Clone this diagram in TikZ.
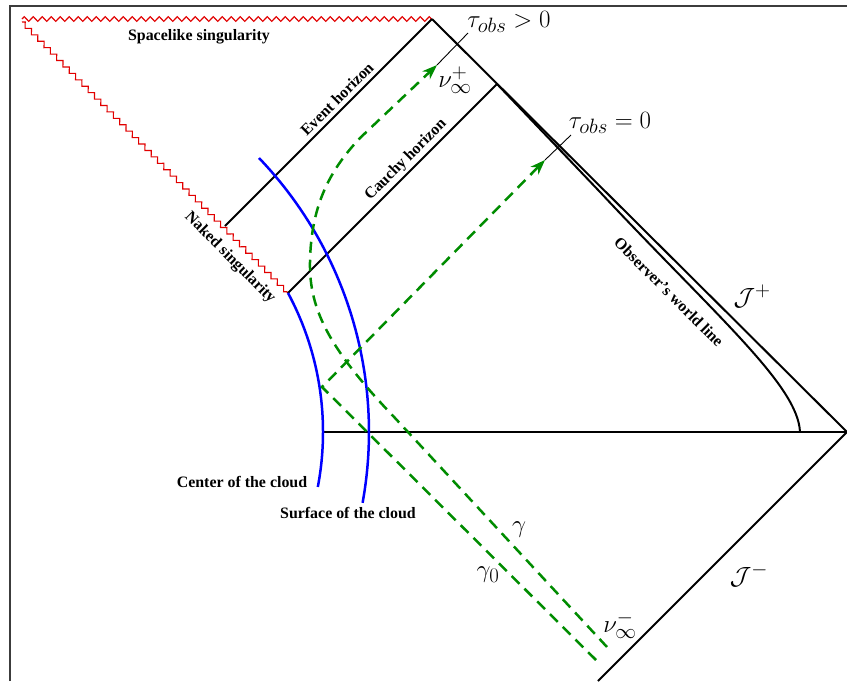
\documentclass[tikz,border=0pt]{standalone}
\usepackage{fontspec}
\setmainfont{Liberation Serif}
\usetikzlibrary{decorations.pathmorphing,arrows.meta}
\definecolor{rayg}{RGB}{0,140,0}
\definecolor{singred}{RGB}{225,0,0}
\definecolor{frameg}{RGB}{60,60,60}
\begin{document}
\begin{tikzpicture}[x=1pt,y=-1pt,
  hline/.style={line width=2pt,black},
  ray/.style={rayg,line width=2.5pt,dash pattern=on 11pt off 7pt},
  cloud/.style={blue,line width=2.5pt},
  sing/.style={singred,line width=1.1pt,decorate,decoration={zigzag,amplitude=2.3pt,segment length=9pt}},
  lab/.style={font=\bfseries\fontsize{15.9}{18}\selectfont,inner sep=0pt},
  mlab/.style={font=\fontsize{24.88}{28}\selectfont,inner sep=0pt},
  tickl/.style={line width=0.9pt,black},
  arr/.style={-{Stealth[length=15pt,width=11pt]}}
]
\useasboundingbox (0,0) rectangle (847,681);
\draw[frameg,line width=1.3pt] (10,681) -- (10,6) -- (847,6);

\coordinate (A) at (432,19);
\coordinate (L) at (22,19);
\coordinate (Ld) at (22,22);
\coordinate (R) at (847,432);
\coordinate (B) at (598,681);
\coordinate (NE) at (225,226);
\coordinate (NC) at (288,293);
\coordinate (CE) at (497,84);
\coordinate (C0) at (323,432);
\coordinate (W0) at (800,432);
\coordinate (S0) at (259,158);

% singularities
\draw[sing] (L) -- (A);
\draw[sing] (Ld) -- (NC);

% boundaries and horizons
\draw[hline] (A) -- (R) -- (B);
\draw[hline] (NE) -- (A);
\draw[hline] (NC) -- (CE);
\draw[line width=1.5pt] (C0) -- (R);
\draw[hline] (CE) -- (600,192) .. controls (715,315) and (798,385) .. (W0);

% cloud
\draw[cloud] (NC) arc[start angle=-28.27, end angle=10.8, radius=293.5];
\draw[cloud] (S0) arc[start angle=-43.74, end angle=10.3, radius=396.3];

% rays
\coordinate (G0s) at (596,660);
\coordinate (G0r) at (322,387);
\coordinate (G0e) at (545,160);
\coordinate (Gs) at (607,647);
\coordinate (Ge) at (437,65);
\draw[ray,arr] (G0s) -- (G0r) -- (G0e);
\draw[ray,arr] (Gs) -- (395,418) .. controls (330,350) and (309,310) .. (310,262)
   .. controls (311,205) and (330,170) .. (360,138) -- (Ge);

% ticks
\coordinate (T0) at (571,135);
\coordinate (T1) at (468,33);
\draw[tickl] (G0e) -- (T0);
\draw[tickl] (Ge) -- (T1);

% math labels
\node[mlab] (lt1) at (509,22) {$\tau_{obs} > 0$};
\node[mlab] (lt0) at (610,123) {$\tau_{obs} = 0$};
\node[mlab] (lnp) at (455,80) {$\nu_\infty^+$};
\node[mlab] (lnm) at (620,625) {$\nu_\infty^-$};
\node[mlab] (lg) at (519,530) {$\gamma$};
\node[mlab] (lg0) at (488,575) {$\gamma_0$};
\node[mlab] (ljp) at (752,296) {$\mathcal{J}^+$};
\node[mlab] (ljm) at (749,575) {$\mathcal{J}^-$};

% text labels
\node[lab] (ls) at (199,37) {Spacelike singularity};
\node[lab,rotate=45] (le) at (337,99) {Event horizon};
\node[lab,rotate=45] (lc) at (406,160) {Cauchy horizon};
\node[lab,rotate=-45] (ln) at (230,258) {Naked singularity};
\node[lab,rotate=-45] (lo) at (669,292) {Observer's world line};
\node[lab] (lcc) at (242,482) {Center of the cloud};
\node[lab] (lsc) at (348,513) {Surface of the cloud};
\end{tikzpicture}
\end{document}
